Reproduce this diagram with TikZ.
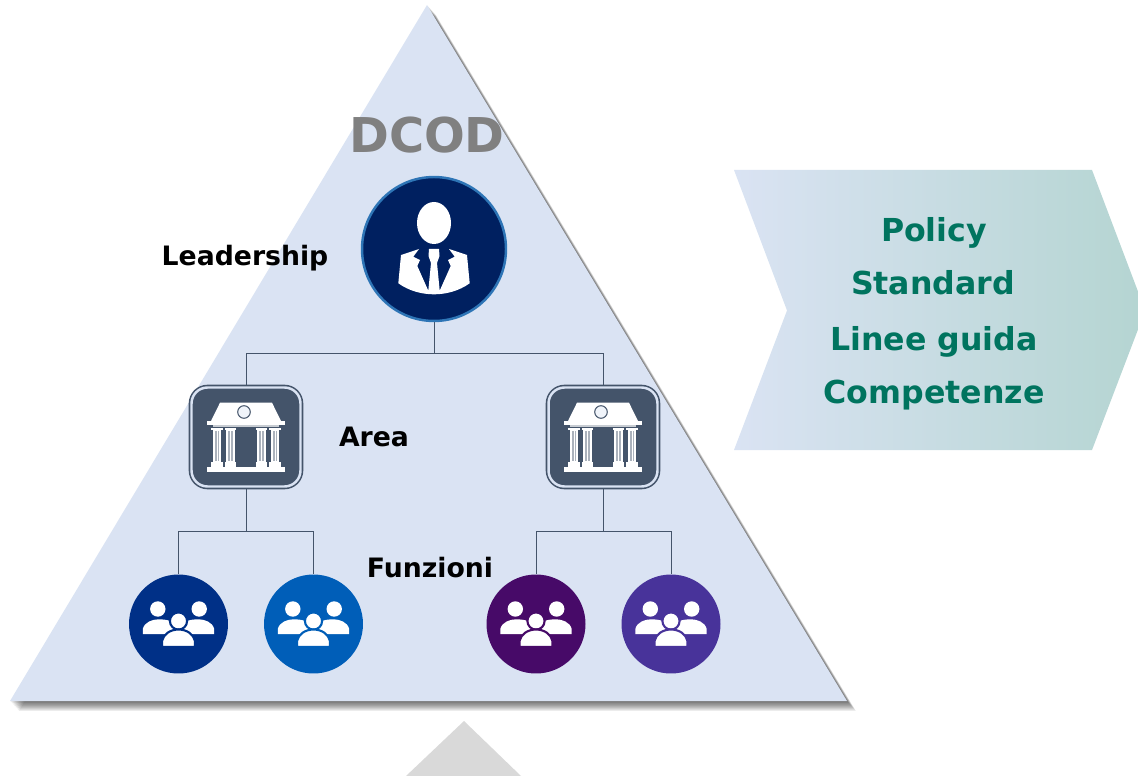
\documentclass[tikz,border=0pt]{standalone}
\usepackage{fontspec}
\setmainfont{DejaVu Sans}
\pgfdeclarelayer{bg}
\pgfsetlayers{bg,main}
\definecolor{triblue}{HTML}{DAE3F3}
\definecolor{leadblue}{HTML}{002060}
\definecolor{leadring}{HTML}{2E75B6}
\definecolor{areadark}{HTML}{44546A}
\definecolor{arealight}{HTML}{DAE3F3}
\definecolor{crewa}{HTML}{003087}
\definecolor{crewb}{HTML}{005EB8}
\definecolor{crewc}{HTML}{470A68}
\definecolor{crewd}{HTML}{48339A}
\definecolor{tealtext}{HTML}{00745F}
\definecolor{chevmid}{HTML}{C3D9DE}
\definecolor{chevend}{HTML}{B5D5D2}
\tikzset{
    label text/.style={font=\fontsize{15.2}{17}\selectfont\bfseries, inner sep=0pt, anchor=base},
    chevron text/.style={font=\fontsize{18}{20}\selectfont\bfseries, text=tealtext, inner sep=0pt, anchor=base},
    lead node/.style={circle, minimum size=2.88cm, inner sep=0pt, fill=leadblue, draw=leadring, line width=1.4pt},
    area node/.style={rectangle, rounded corners=0.32cm, minimum width=2.18cm, minimum height=1.98cm, inner sep=0pt,
        fill=areadark, draw=areadark, line width=0.9pt, double=arealight, double distance=1.4pt},
    crew node/.style={circle, minimum size=1.98cm, inner sep=0pt, fill=#1},
    link/.style={draw=areadark, line width=0.55pt},
    pics/manager/.style={code={
        \fill[white] (0,-26) ellipse (17 and 21);
        \fill[white] (-35.7,34.3) -- (-33,6) -- (-15,0) -- (-20.7,7.7) -- (-14,11) -- (-16.7,17) -- (-5.7,41.7)
            -- (-3,14) -- (-5.5,7) -- (-5,0) -- (5,0) -- (5.5,7) -- (3,14) -- (5.7,41.7)
            -- (16.7,17) -- (14,11) -- (20.7,7.7) -- (15,0) -- (33,6) -- (35.7,34.3)
            .. controls (15,49) and (-15,49) .. (-35.7,34.3) -- cycle;
    }},
    pics/temple/.style={code={
        \fill[white] (-26,-34.3) -- (26,-34.3) -- (35,-16) -- (-35,-16) -- cycle;
        \fill[white] (-38.7,-16) rectangle (38.7,-11.7);
        \fill[white!70!areadark] (-33,-11.7) rectangle (33,-10.3);
        \draw[areadark, fill=triblue!40!white, line width=0.6pt] (-2,-25) circle (6.3);
        \fill[white] (-38.7,30) rectangle (38.7,35);
        \foreach \cx in {-29,-15.7,15.7,29} {
            \fill[white] (\cx-5.6,-9.5) rectangle (\cx+5.6,-7);
            \fill[white] (\cx-4.4,-7) rectangle (\cx+4.4,25);
            \fill[white!55!areadark] (\cx-2.4,-6) rectangle (\cx+2.4,24);
            \fill[white] (\cx-0.5,-6) rectangle (\cx+0.5,24);
            \fill[white] (\cx-5.6,25) rectangle (\cx+5.6,30);
        }
    }},
    pics/people/.style={code={
        \fill[white] (-20.7,-15) circle (7.7);
        \fill[white] (20.7,-15) circle (7.7);
        \fill[white] (-35.7,10) -- (-35.7,5) .. controls (-34,-2) and (-26,-4.7) .. (-20,-4.7)
            .. controls (-12,-4.7) and (-4,-3) .. (-2,3) -- (-8,10) -- cycle;
        \fill[white] (35.7,10) -- (35.7,5) .. controls (34,-2) and (26,-4.7) .. (20,-4.7)
            .. controls (12,-4.7) and (4,-3) .. (2,3) -- (8,10) -- cycle;
        \filldraw[white, draw=#1, line width=1.2pt] (0,-3) circle (8.6);
        \filldraw[white, draw=#1, line width=1.2pt] (-16.5,23) -- (-16.5,17) .. controls (-15,10) and (-8,5.5) .. (0,5.5)
            .. controls (8,5.5) and (15,10) .. (16.5,17) -- (16.5,23) -- cycle;
    }}
}
\begin{document}
\begin{tikzpicture}[x=0.02cm, y=-0.02cm]
    \useasboundingbox (0,0) rectangle (1138,776);

    \fill[black!15] (464,721) -- (521,776) -- (406,776) -- cycle;
    \shade[left color=triblue, middle color=chevmid, right color=chevend]
        (734,170) -- (1092,170) -- (1138,291.5) -- (1138,329.5) -- (1092,450) -- (734,450) -- (787,310.5) -- cycle;

    \node (lead) [lead node] at (434,249) {};
    \node (area1) [area node] at (246,437) {};
    \node (area2) [area node] at (603,437) {};
    \node (crew1) [crew node=crewa] at (178.5,624) {};
    \node (crew2) [crew node=crewb] at (313.5,624) {};
    \node (crew3) [crew node=crewc] at (536,624) {};
    \node (crew4) [crew node=crewd] at (671,624) {};

    \coordinate (split0) at (434,353);
    \coordinate (split1) at (246,531);
    \coordinate (split2) at (603,531);

    \pic at (lead) {manager};
    \pic at (area1) {temple};
    \pic at (area2) {temple};
    \pic at (crew1) {people=crewa};
    \pic at (crew2) {people=crewb};
    \pic at (crew3) {people=crewc};
    \pic at (crew4) {people=crewd};

    \node (dcod) [font=\fontsize{27.3}{30}\selectfont\bfseries, text=black!50, inner sep=0pt] at (427,135) {DCOD};
    \node (leadership) [label text] at (245,265.5) {Leadership};
    \node (area) [label text] at (374,446) {Area};
    \node (funzioni) [label text] at (430,577) {Funzioni};

    \node (policy) [chevron text] at (934,242) {Policy};
    \node (standard) [chevron text] at (933,295) {Standard};
    \node (linee) [chevron text] at (934,351) {Linee guida};
    \node (comp) [chevron text] at (934,403.5) {Competenze};

    \begin{pgfonlayer}{bg}
        \foreach \d in {1,...,11} {
            \fill[black, opacity=0.065] (427+\d*0.8,5+\d*0.9) -- (847+\d*0.8,701+\d*0.9) -- (10+\d*0.8,701+\d*0.9) -- cycle;
        }
        \fill[triblue] (427,5) -- (847,701) -- (10,701) -- cycle;
        \draw[link] (lead) -- (split0);
        \draw[link] (split0) -| (area1);
        \draw[link] (split0) -| (area2);
        \draw[link] (area1) -- (split1);
        \draw[link] (split1) -| (crew1);
        \draw[link] (split1) -| (crew2);
        \draw[link] (area2) -- (split2);
        \draw[link] (split2) -| (crew3);
        \draw[link] (split2) -| (crew4);
    \end{pgfonlayer}
\end{tikzpicture}
\end{document}
